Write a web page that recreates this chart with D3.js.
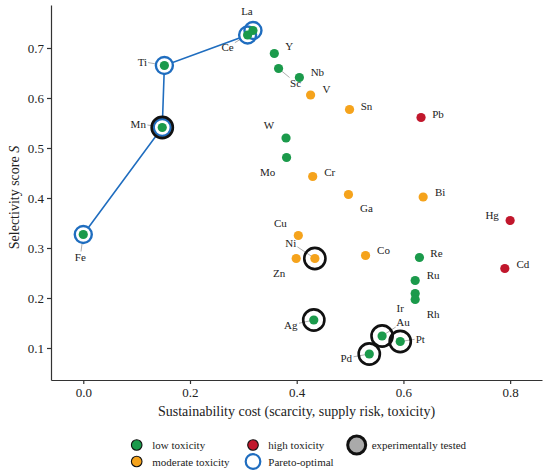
<!DOCTYPE html>
<html>
<head>
<meta charset="utf-8">
<script src="https://cdn.jsdelivr.net/npm/d3@7"></script>
<style>
  body { margin: 0; background: #fff; }
  svg text { font-family: "Liberation Serif", "Times New Roman", Times, "DejaVu Serif", "Noto Serif", serif; }
  .axis text { font-size: 13px; fill: #222; }
  .axis path, .axis line { stroke: #333; stroke-width: 1.2; }
</style>
</head>
<body>
<div class="scatter"></div>
<script>
// Elements and their scores
var elements = ['Fe', 'Mn', 'Ti', 'Ce', 'La', 'Y', 'Sc', 'Nb', 'V', 'Sn', 'Pb', 'W', 'Mo', 'Cr', 'Ga',
	'Bi', 'Hg', 'Cu', 'Zn', 'Ni', 'Co', 'Re', 'Cd', 'Ru', 'Ir', 'Rh', 'Ag', 'Au', 'Pt', 'Pd'];
var cost = [0.0, 0.148, 0.152, 0.308, 0.318, 0.358, 0.366, 0.405, 0.426, 0.499, 0.633, 0.380, 0.381, 0.430, 0.497,
	0.637, 0.800, 0.403, 0.399, 0.434, 0.529, 0.630, 0.790, 0.622, 0.622, 0.622, 0.432, 0.560, 0.594, 0.536];
var score = [0.327, 0.541, 0.665, 0.726, 0.735, 0.689, 0.659, 0.641, 0.606, 0.577, 0.561, 0.520, 0.481, 0.443, 0.407,
	0.402, 0.355, 0.325, 0.279, 0.279, 0.285, 0.281, 0.259, 0.235, 0.209, 0.197, 0.156, 0.124, 0.113, 0.088];
var toxicity = ['low', 'low', 'low', 'low', 'low', 'low', 'low', 'low', 'moderate', 'moderate', 'high', 'low', 'low',
	'moderate', 'moderate', 'moderate', 'high', 'moderate', 'moderate', 'moderate', 'moderate', 'low', 'high',
	'low', 'low', 'low', 'low', 'low', 'low', 'low'];
var pareto = ['Fe', 'Mn', 'Ti', 'Ce', 'La'];
var tested = ['Mn', 'Ni', 'Ag', 'Au', 'Pt', 'Pd'];
var xTicks = [0.0, 0.2, 0.4, 0.6, 0.8];
var yTicks = [0.1, 0.2, 0.3, 0.4, 0.5, 0.6, 0.7];

// label placement (pixel offsets from the point), and which labels get a leader line
var labelOffsets = {
	Fe: [-3, 22], Mn: [-24, -4], Ti: [-22, -4], Ce: [-20, 12], La: [-6, -20], Y: [15, -8], Sc: [17, 14],
	Nb: [18, -6], V: [16, -6], Sn: [17, -4], Pb: [17, -4], W: [-17, -13], Mo: [-19, 14], Cr: [17, -5],
	Ga: [18, 13], Bi: [17, -5], Hg: [-18, -6], Cu: [-18, -13], Ni: [-24, -16], Zn: [-17, 14], Co: [18, -6],
	Re: [17, -5], Cd: [18, -5], Ru: [18, -6], Ir: [-15, 14], Rh: [18, 14], Ag: [-23, 5], Au: [21, -14],
	Pt: [20, -3], Pd: [-23, 4]
};
var leadered = ['Fe', 'Mn', 'Ti', 'Ce', 'Sc', 'Ni', 'Ag', 'Au', 'Pt', 'Pd'];

var toxColor = {low: '#1b9a4b', moderate: '#f5a31c', high: '#c1172c'},
	paretoBlue = '#1f6dbf',
	textColor = '#222';

var margin = {top: 5, left: 51, bottom: 95, right: 8};
var width = 550 - margin.left - margin.right;
var height = 475 - margin.top - margin.bottom;

var x = d3.scaleLinear().domain([-0.0605, 0.8597]).range([0, width]);
var y = d3.scaleLinear().domain([0.036, 0.786]).range([height, 0]);

var data = elements.map(function(el, i) {
	return {name: el, cost: cost[i], score: score[i], tox: toxicity[i]};
});
var byName = {};
data.forEach(function(d) { byName[d.name] = d; });

var svg = d3.select('.scatter').append('svg')
	.attr('width', 550)
	.attr('height', 475)
	.attr('fill', textColor)
.append('g')
	.attr('transform', 'translate(' + margin.left + ',' + margin.top + ')');

// axes (left and bottom only)
svg.append('g')
	.attr('class', 'axis')
	.attr('transform', 'translate(0,' + height + ')')
	.call(d3.axisBottom(x).tickValues(xTicks).tickSize(4).tickPadding(4).tickSizeOuter(0)
		.tickFormat(d3.format('.1f')));
svg.append('g')
	.attr('class', 'axis')
	.call(d3.axisLeft(y).tickValues(yTicks).tickSize(4).tickPadding(3).tickSizeOuter(0)
		.tickFormat(d3.format('.1f')));
svg.selectAll('.axis').attr('font-family', null);

svg.append('text')
	.attr('x', width / 2)
	.attr('y', height + 36)
	.attr('text-anchor', 'middle')
	.attr('font-size', '14px')
	.text('Sustainability cost (scarcity, supply risk, toxicity)');
var yLabel = svg.append('text')
	.attr('transform', 'translate(' + (-32) + ',' + (height / 2 + 5) + ') rotate(-90)')
	.attr('text-anchor', 'middle')
	.attr('font-size', '14px');
yLabel.append('tspan').text('Selectivity score ');
yLabel.append('tspan').attr('font-style', 'italic').text('S');

// pareto front line
var paretoData = pareto.map(function(n) { return byName[n]; });
svg.append('path')
	.datum(paretoData)
	.attr('fill', 'none')
	.attr('stroke', paretoBlue)
	.attr('stroke-width', 1.6)
	.attr('d', d3.line().x(function(d) { return x(d.cost); }).y(function(d) { return y(d.score); }));

// labels and leader lines
var labels = svg.append('g');
var leaders = svg.append('g');
data.forEach(function(d) {
	var off = labelOffsets[d.name];
	var px = x(d.cost), py = y(d.score);
	var t = labels.append('text')
		.attr('x', px + off[0])
		.attr('y', py + off[1])
		.attr('text-anchor', 'middle')
		.attr('dominant-baseline', 'central')
		.attr('font-size', '11px')
		.text(d.name);
	if (leadered.indexOf(d.name) >= 0) {
		var b = t.node().getBBox();
		var cx = b.x + b.width / 2, cy = b.y + b.height / 2;
		var dx = px - cx, dy = py - cy;
		var s = Math.min(Math.abs((b.width / 2 + 1) / (dx || 1e-6)), Math.abs((b.height / 2 - 1) / (dy || 1e-6)));
		leaders.append('line')
			.attr('x1', cx + dx * s)
			.attr('y1', cy + dy * s)
			.attr('x2', px)
			.attr('y2', py)
			.attr('stroke', '#999')
			.attr('stroke-width', 0.8);
	}
});

// pareto rings (white background first, then the rings)
svg.append('g').selectAll('circle')
	.data(paretoData)
	.join('circle')
	.attr('cx', function(d) { return x(d.cost); })
	.attr('cy', function(d) { return y(d.score); })
	.attr('r', 8.5)
	.attr('fill', '#fff');
svg.append('g').selectAll('circle')
	.data(paretoData)
	.join('circle')
	.attr('cx', function(d) { return x(d.cost); })
	.attr('cy', function(d) { return y(d.score); })
	.attr('r', 8.5)
	.attr('fill', 'none')
	.attr('stroke', paretoBlue)
	.attr('stroke-width', 2.4);

// the points
svg.append('g').selectAll('circle')
	.data(data)
	.join('circle')
	.attr('cx', function(d) { return x(d.cost); })
	.attr('cy', function(d) { return y(d.score); })
	.attr('r', 4.6)
	.attr('fill', function(d) { return toxColor[d.tox]; });

// experimentally tested rings
svg.append('g').selectAll('circle')
	.data(tested.map(function(n) { return byName[n]; }))
	.join('circle')
	.attr('cx', function(d) { return x(d.cost); })
	.attr('cy', function(d) { return y(d.score); })
	.attr('r', 10.6)
	.attr('fill', 'none')
	.attr('stroke', '#111')
	.attr('stroke-width', 2.6);

// legend
var legendItems = [
	{label: 'low toxicity', kind: 'dot', color: toxColor.low, col: 0, row: 0},
	{label: 'moderate toxicity', kind: 'dot', color: toxColor.moderate, col: 0, row: 1},
	{label: 'high toxicity', kind: 'dot', color: toxColor.high, col: 1, row: 0},
	{label: 'Pareto-optimal', kind: 'ring', color: paretoBlue, col: 1, row: 1},
	{label: 'experimentally tested', kind: 'tested', color: '#aaa', col: 2, row: 0}
];
var legendX = [136.7, 253, 356.7],
	legendY = [445, 461.5],
	legendTextX = [152.3, 268.3, 371.7];
var legend = d3.select('svg').append('g');
legendItems.forEach(function(it) {
	var lx = legendX[it.col], ly = legendY[it.row];
	var c = legend.append('circle').attr('cx', lx).attr('cy', ly);
	if (it.kind === 'dot') {
		c.attr('r', 5.3).attr('fill', it.color).attr('stroke', '#111').attr('stroke-width', 1.1);
	} else if (it.kind === 'ring') {
		c.attr('r', 7.3).attr('fill', '#fff').attr('stroke', it.color).attr('stroke-width', 2.2);
	} else {
		c.attr('r', 9).attr('fill', it.color).attr('stroke', '#111').attr('stroke-width', 3);
	}
	legend.append('text')
		.attr('x', legendTextX[it.col])
		.attr('y', ly)
		.attr('dominant-baseline', 'central')
		.attr('font-size', '11px')
		.attr('fill', textColor)
		.text(it.label);
});
</script>
</body>
</html>
